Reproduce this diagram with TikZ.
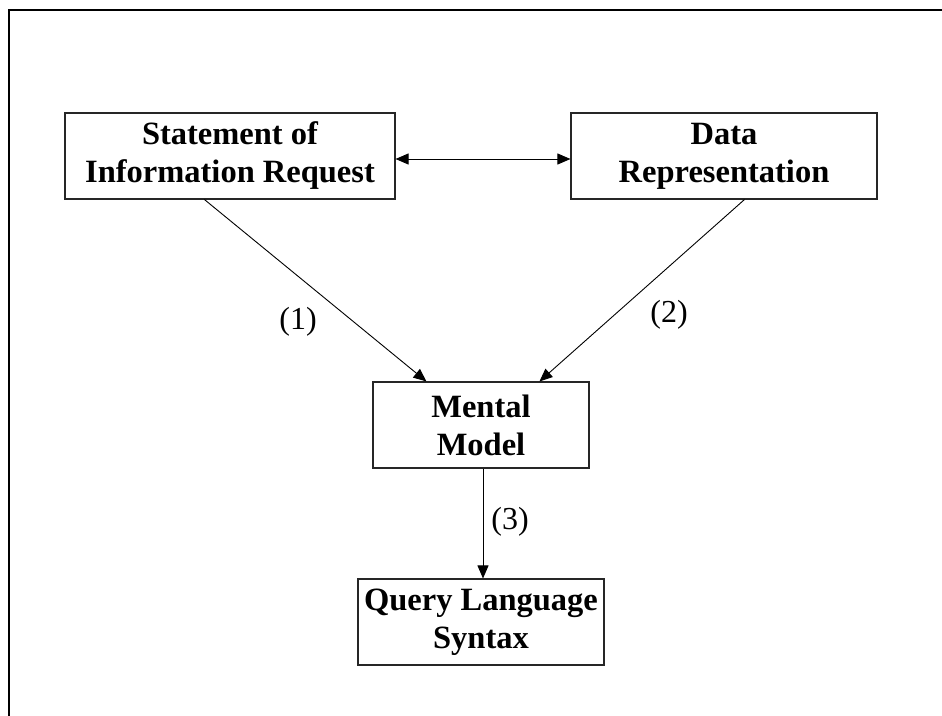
\documentclass[tikz,border=0pt]{standalone}
\usepackage{fontspec}
\setmainfont{Liberation Serif}
\usetikzlibrary{arrows.meta}
\begin{document}
\begin{tikzpicture}[x=1pt,y=-1pt,
  box/.style={draw=black!85,line width=1.1pt,align=center,inner sep=0pt,
    font=\bfseries\fontsize{32.5}{38}\selectfont},
  tip/.tip={Triangle[length=13pt,width=11pt]},
  link/.style={line width=0.9pt,-tip},
  tag/.style={font=\fontsize{32}{38}\selectfont}]
  \useasboundingbox (0,0) rectangle (942,715);
  \clip (0,0) rectangle (942,715);
  % outer frame
  \draw[line width=2.6pt] (9,10) rectangle (980,760);
  % boxes
  \node[box,minimum width=330pt,minimum height=86pt] (req) at (230,156)
    {Statement of\\Information Request};
  \node[box,minimum width=306pt,minimum height=86pt] (data) at (724,156)
    {Data\\Representation};
  \node[box,minimum width=216pt,minimum height=86pt] (mm) at (481,425)
    {Mental\\Model};
  \node[box,minimum width=246pt,minimum height=86pt] (qs) at (481,622)
    {Query Language\\Syntax};
  % connectors
  \draw[line width=0.9pt,tip-tip]
    ([yshift=-3pt]req.east) -- ([yshift=-3pt]data.west);
  \draw[link] ([xshift=140pt]req.south west) -- ([xshift=54pt]mm.north west);
  \draw[link] ([xshift=174pt]data.south west) -- ([xshift=167pt]mm.north west);
  \draw[link] ([xshift=2pt]mm.south) -- ([xshift=2pt]qs.north);
  % labels
  \node[tag] (l1) at (298,322) {(1)};
  \node[tag] (l2) at (669,315) {(2)};
  \node[tag] (l3) at (510,522) {(3)};
\end{tikzpicture}
\end{document}
